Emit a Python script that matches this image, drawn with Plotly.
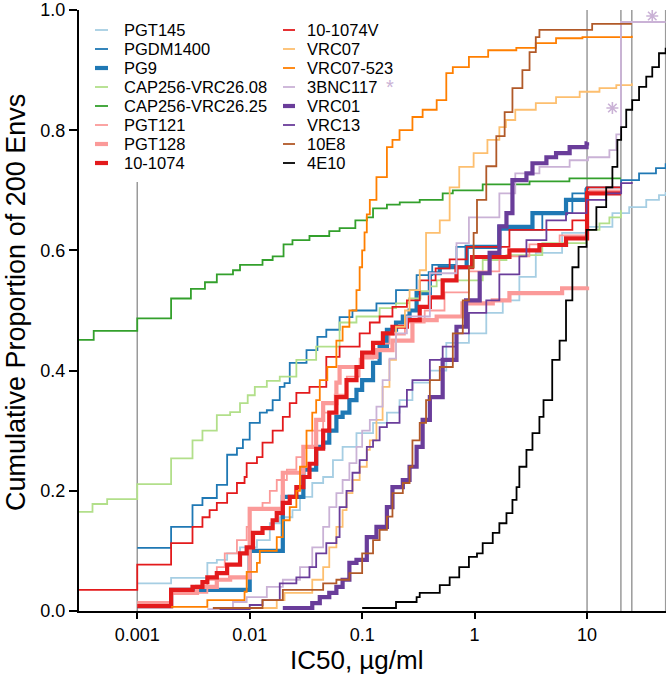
import plotly.graph_objects as go

# IC50 (ug/ml) breakpoints and cumulative proportion of the 200 Envs, one pair per antibody
pgt145_x = [0.001, 0.002, 0.0042, 0.0051, 0.0063, 0.0082, 0.0116, 0.0151, 0.0185, 0.024, 0.028, 0.036,
            0.045, 0.055, 0.067, 0.089, 0.125, 0.166, 0.215, 0.28, 0.40, 0.56, 0.89, 1.27, 1.78, 2.5,
            3.5, 6.0, 9.9, 16.8, 23.7, 33.6, 43.6, 50]
pgt145_y = [0.046, 0.055, 0.08, 0.085, 0.096, 0.106, 0.118, 0.146, 0.156, 0.168, 0.19, 0.213,
            0.223, 0.251, 0.273, 0.296, 0.313, 0.33, 0.351, 0.38, 0.40, 0.446, 0.462, 0.496, 0.517, 0.556,
            0.596, 0.629, 0.639, 0.662, 0.672, 0.684, 0.692, 0.697]

pgdm1400_x = [0.001, 0.002, 0.0031, 0.0038, 0.0051, 0.0063, 0.0077, 0.0087, 0.010, 0.0123, 0.0142, 0.016,
              0.0185, 0.0204, 0.0227, 0.032, 0.040, 0.048, 0.063, 0.082, 0.134, 0.20, 0.305, 0.42, 0.69,
              1.66, 4.0, 7.4, 9.9, 20.1, 29, 41, 50]
pgdm1400_y = [0.105, 0.14, 0.176, 0.188, 0.21, 0.26, 0.271, 0.285, 0.313, 0.33, 0.334, 0.351,
              0.373, 0.379, 0.413, 0.434, 0.456, 0.468, 0.489, 0.50, 0.512, 0.534, 0.559, 0.576, 0.606,
              0.634, 0.662, 0.695, 0.705, 0.717, 0.728, 0.737, 0.745]

pg9_x = [0.001, 0.002, 0.010, 0.0197, 0.030, 0.039, 0.045, 0.051, 0.059, 0.067, 0.077, 0.089, 0.10,
         0.125, 0.143, 0.166, 0.20, 0.23, 0.264, 0.305, 0.40, 0.49, 0.85, 1.66, 3.27, 6.5, 9.9, 10]
pg9_y = [0.008, 0.035, 0.10, 0.19, 0.235, 0.273, 0.28, 0.30, 0.323, 0.33, 0.351, 0.368, 0.384,
         0.413, 0.44, 0.468, 0.48, 0.49, 0.50, 0.529, 0.562, 0.572, 0.606, 0.639, 0.662, 0.684, 0.70, 0.705]

cap08_x = [0.0003, 0.0004, 0.00054, 0.001, 0.002, 0.0031, 0.0038, 0.0051, 0.0067, 0.0082, 0.0096, 0.0111,
           0.0142, 0.0185, 0.026, 0.039, 0.063, 0.089, 0.143, 0.20, 0.26, 0.33, 0.40, 0.46, 1.18, 1.92,
           4.0, 9.9, 12.9, 15.8, 20]
cap08_y = [0.165, 0.178, 0.186, 0.211, 0.254, 0.284, 0.30, 0.326, 0.331, 0.346, 0.359, 0.373,
           0.383, 0.39, 0.418, 0.44, 0.48, 0.49, 0.504, 0.512, 0.52, 0.532, 0.54, 0.55, 0.584, 0.592,
           0.612, 0.634, 0.645, 0.655, 0.667]

cap25_x = [0.0003, 0.00041, 0.001, 0.002, 0.003, 0.004, 0.0051, 0.0071, 0.0082, 0.013, 0.016, 0.020,
           0.024, 0.034, 0.051, 0.063, 0.087, 0.11, 0.125, 0.166, 0.216, 0.325, 0.52, 0.64, 1.18, 3.08,
           6.97, 20]
cap25_y = [0.451, 0.466, 0.487, 0.52, 0.536, 0.547, 0.56, 0.567, 0.576, 0.584, 0.59, 0.61,
           0.617, 0.624, 0.632, 0.637, 0.65, 0.655, 0.67, 0.676, 0.68, 0.684, 0.695, 0.70, 0.71, 0.715,
           0.72, 0.72]

pgt121_x = [0.001, 0.002, 0.0042, 0.0051, 0.006, 0.0077, 0.0094, 0.010, 0.013, 0.0151, 0.0174, 0.0214,
            0.026, 0.030, 0.036, 0.045, 0.057, 0.073, 0.095, 0.125, 0.175, 0.24, 0.36, 0.54, 0.89, 1.66,
            3.07, 5.7, 10, 20]
pgt121_y = [0.015, 0.03, 0.052, 0.073, 0.096, 0.118, 0.14, 0.168, 0.18, 0.20, 0.218, 0.235,
            0.256, 0.273, 0.30, 0.33, 0.36, 0.39, 0.42, 0.445, 0.46, 0.48, 0.50, 0.53, 0.565, 0.59,
            0.61, 0.625, 0.70, 0.70]

pgt128_x = [0.001, 0.002, 0.0034, 0.0051, 0.0067, 0.010, 0.0197, 0.030, 0.039, 0.045, 0.059, 0.063,
            0.10, 0.134, 0.186, 0.28, 0.46, 0.78, 1.45, 2.04, 6.0, 10]
pgt128_y = [0.01, 0.03, 0.04, 0.052, 0.056, 0.17, 0.23, 0.273, 0.318, 0.346, 0.38, 0.406,
            0.423, 0.434, 0.45, 0.484, 0.49, 0.512, 0.517, 0.529, 0.537, 0.54]

r1074_x = [0.001, 0.002, 0.0031, 0.0038, 0.0042, 0.0051, 0.0063, 0.0082, 0.0094, 0.0107, 0.013, 0.016,
           0.0174, 0.0197, 0.0227, 0.026, 0.030, 0.034, 0.039, 0.045, 0.051, 0.059, 0.0726, 0.089, 0.10,
           0.125, 0.153, 0.186, 0.25, 0.325, 0.40, 0.52, 0.69, 0.95, 2.04, 3.77, 6.5, 10, 20]
r1074_y = [0.008, 0.035, 0.04, 0.048, 0.056, 0.063, 0.077, 0.096, 0.106, 0.13, 0.138, 0.151,
           0.163, 0.18, 0.19, 0.206, 0.223, 0.245, 0.27, 0.30, 0.33, 0.356, 0.384, 0.406, 0.43,
           0.446, 0.462, 0.473, 0.484, 0.506, 0.522, 0.55, 0.572, 0.589, 0.60, 0.609, 0.62, 0.695, 0.695]

r1074v_x = [0.0003, 0.001, 0.002, 0.0031, 0.0038, 0.0044, 0.0051, 0.0063, 0.0077, 0.0090, 0.0094, 0.0116,
            0.013, 0.016, 0.0197, 0.0227, 0.026, 0.034, 0.048, 0.063, 0.095, 0.117, 0.143, 0.186, 0.25,
            0.325, 0.45, 0.6, 0.85, 2.04, 7.4, 10, 20]
r1074v_y = [0.035, 0.077, 0.113, 0.14, 0.156, 0.168, 0.18, 0.196, 0.213, 0.223, 0.246, 0.256,
            0.28, 0.30, 0.323, 0.346, 0.363, 0.373, 0.423, 0.44, 0.462, 0.48, 0.49, 0.506, 0.517,
            0.55, 0.57, 0.585, 0.606, 0.634, 0.65, 0.705, 0.705]

vrc07_x = [0.005, 0.0094, 0.0174, 0.0204, 0.036, 0.045, 0.051, 0.059, 0.067, 0.0726, 0.082, 0.095, 0.11,
           0.117, 0.134, 0.152, 0.175, 0.20, 0.24, 0.264, 0.325, 0.37, 0.49, 0.6, 0.73, 0.98, 1.3, 1.66,
           1.9, 2.3, 3.5, 5.3, 8.6, 12.9, 18.2, 25]
vrc07_y = [0.003, 0.005, 0.018, 0.03, 0.052, 0.073, 0.106, 0.14, 0.168, 0.196, 0.218, 0.24, 0.268,
           0.284, 0.318, 0.373, 0.418, 0.473, 0.50, 0.534, 0.567, 0.629, 0.65, 0.705, 0.739, 0.762, 0.784,
           0.805, 0.817, 0.834, 0.845, 0.855, 0.864, 0.87, 0.875, 0.878]

vrc07523_x = [0.002, 0.0042, 0.009, 0.0094, 0.0116, 0.0123, 0.0174, 0.0197, 0.0227, 0.026, 0.028, 0.032,
              0.036, 0.039, 0.042, 0.049, 0.059, 0.067, 0.077, 0.089, 0.095, 0.10, 0.105, 0.11, 0.117,
              0.134, 0.166, 0.186, 0.215, 0.28, 0.345, 0.46, 0.56, 0.64, 0.89, 1.32, 2.35, 3.5, 5.3,
              9.1, 25]
vrc07523_y = [0.007, 0.018, 0.032, 0.065, 0.08, 0.10, 0.123, 0.151, 0.173, 0.20, 0.24, 0.30,
              0.33, 0.351, 0.384, 0.406, 0.45, 0.473, 0.50, 0.534, 0.572, 0.60, 0.63, 0.66, 0.684,
              0.722, 0.772, 0.784, 0.80, 0.822, 0.834, 0.85, 0.895, 0.905, 0.922, 0.933, 0.937, 0.945,
              0.953, 0.955, 0.957]

bnc117_x = [0.0042, 0.0071, 0.0094, 0.0142, 0.0197, 0.028, 0.036, 0.045, 0.051, 0.059, 0.067, 0.077,
            0.089, 0.10, 0.117, 0.134, 0.152, 0.175, 0.20, 0.25, 0.40, 0.69, 0.89, 1.66, 2.3, 3.77, 7.0,
            10.2, 15.8, 18.2, 20, 50]
bnc117_y = [0.003, 0.015, 0.023, 0.04, 0.052, 0.073, 0.106, 0.14, 0.173, 0.196, 0.218, 0.246,
            0.273, 0.30, 0.318, 0.34, 0.384, 0.42, 0.462, 0.49, 0.562, 0.612, 0.655, 0.695, 0.728,
            0.739, 0.75, 0.755, 0.767, 0.793, 0.98, 0.98]

vrc01_x = [0.0197, 0.036, 0.042, 0.051, 0.059, 0.067, 0.077, 0.089, 0.11, 0.134, 0.166, 0.186, 0.23,
           0.264, 0.305, 0.345, 0.40, 0.52, 0.69, 0.84, 1.11, 1.36, 1.66, 1.92, 2.17, 2.89, 3.27, 4.35,
           5.3, 7.0, 9.9, 10]
vrc01_y = [0.005, 0.013, 0.023, 0.03, 0.04, 0.052, 0.08, 0.085, 0.123, 0.14, 0.173, 0.206, 0.218,
           0.24, 0.273, 0.318, 0.356, 0.418, 0.473, 0.517, 0.562, 0.596, 0.64, 0.662, 0.717, 0.728,
           0.745, 0.755, 0.762, 0.772, 0.778, 0.78]

vrc13_x = [0.0054, 0.010, 0.013, 0.0185, 0.026, 0.034, 0.039, 0.048, 0.059, 0.063, 0.0726, 0.082, 0.095,
           0.11, 0.125, 0.143, 0.166, 0.215, 0.25, 0.28, 0.40, 0.52, 0.69, 0.89, 1.27, 1.66, 2.5, 2.89,
           4.35, 6.5, 9.9, 14.8, 20.1, 25]
vrc13_y = [0.003, 0.01, 0.018, 0.046, 0.056, 0.073, 0.096, 0.113, 0.123, 0.173, 0.20, 0.23, 0.251,
           0.273, 0.284, 0.306, 0.313, 0.34, 0.368, 0.384, 0.418, 0.44, 0.462, 0.496, 0.517, 0.56, 0.59,
           0.617, 0.65, 0.662, 0.684, 0.695, 0.712, 0.714]

e8_x = [0.0047, 0.013, 0.0197, 0.045, 0.059, 0.077, 0.10, 0.125, 0.143, 0.166, 0.186, 0.23, 0.264, 0.28,
        0.325, 0.37, 0.40, 0.49, 0.64, 0.785, 0.89, 0.98, 1.05, 1.27, 1.56, 1.85, 2.17, 2.66, 3.08, 3.5,
        3.77, 11.1, 25]
e8_y = [0.005, 0.018, 0.035, 0.046, 0.052, 0.063, 0.096, 0.118, 0.135, 0.157, 0.196, 0.213, 0.24, 0.284,
        0.313, 0.351, 0.384, 0.406, 0.462, 0.517, 0.572, 0.629, 0.684, 0.74, 0.79, 0.83, 0.87, 0.90, 0.93,
        0.955, 0.967, 0.977, 0.977]

e10_x = [0.10, 0.20, 0.305, 0.325, 0.49, 0.6, 0.73, 0.89, 1.05, 1.18, 1.45, 1.66, 1.92, 2.17, 2.36, 2.5,
         2.89, 3.27, 3.77, 4.1, 4.9, 5.7, 6.5, 7.4, 8.4, 9.9, 12.1, 14.8, 16.8, 18.6, 20.1, 22.3, 25.2, 29,
         33.6, 38, 43.6, 50]
e10_y = [0.005, 0.015, 0.023, 0.03, 0.043, 0.056, 0.073, 0.09, 0.096, 0.113, 0.13, 0.146, 0.163, 0.185,
         0.206, 0.24, 0.268, 0.296, 0.323, 0.351, 0.418, 0.45, 0.517, 0.572, 0.606, 0.634, 0.672, 0.705,
         0.739, 0.784, 0.805, 0.834, 0.85, 0.872, 0.889, 0.905, 0.928, 0.937]

# highest concentrations tested (grey guide lines) and the 0.001 floor line
cap_lines = [10, 20, 25, 50]
floor_x = 0.001
floor_top = 0.714

# 3BNC117 asterisks
star_x = [16.8, 38]
star_y = [0.837, 0.99]

x_ticks = [0.001, 0.01, 0.1, 1, 10]
x_tick_text = ["0.001", "0.01", "0.1", "1", "10"]
y_ticks = [0, 0.2, 0.4, 0.6, 0.8, 1.0]

THIN, THICK = 1.8, 4.2
series = [
    ("PGT145", pgt145_x, pgt145_y, "#a6cee3", THIN),
    ("PGDM1400", pgdm1400_x, pgdm1400_y, "#1f78b4", THIN),
    ("PG9", pg9_x, pg9_y, "#1f78b4", THICK),
    ("CAP256-VRC26.08", cap08_x, cap08_y, "#b2df8a", THIN),
    ("CAP256-VRC26.25", cap25_x, cap25_y, "#33a02c", THIN),
    ("PGT121", pgt121_x, pgt121_y, "#fb9a99", THIN),
    ("PGT128", pgt128_x, pgt128_y, "#fb9a99", THICK),
    ("10-1074", r1074_x, r1074_y, "#e31a1c", THICK),
    ("10-1074V", r1074v_x, r1074v_y, "#e31a1c", THIN),
    ("VRC07", vrc07_x, vrc07_y, "#fdbf6f", THIN),
    ("VRC07-523", vrc07523_x, vrc07523_y, "#ff7f00", THIN),
    ("3BNC117", bnc117_x, bnc117_y, "#cab2d6", THIN),
    ("VRC01", vrc01_x, vrc01_y, "#6a3d9a", THICK),
    ("VRC13", vrc13_x, vrc13_y, "#6a3d9a", THIN),
    ("10E8", e8_x, e8_y, "#b15928", THIN),
    ("4E10", e10_x, e10_y, "black", THIN),
]

fig = go.Figure()

grey = dict(color="#9a9a9a", width=1.5)
for cx in cap_lines:
    fig.add_trace(go.Scatter(x=[cx, cx], y=[0, 1], mode="lines", line=grey,
                             hoverinfo="skip", showlegend=False))
fig.add_trace(go.Scatter(x=[floor_x, floor_x], y=[0, floor_top], mode="lines", line=grey,
                         hoverinfo="skip", showlegend=False))

for name, xs, ys, color, width in series:
    fig.add_trace(go.Scatter(x=xs, y=ys, name=name, mode="lines", line_shape="hv",
                             line=dict(color=color, width=width), showlegend=False))

fig.add_trace(go.Scatter(x=star_x, y=star_y, mode="markers", showlegend=False, hoverinfo="skip",
                         marker=dict(symbol="asterisk-open", size=10, color="#cab2d6",
                                     line=dict(color="#cab2d6", width=1.6))))

W, H = 667, 676

# hand-built two column legend (pixel layout of the reference)
plot_l, plot_w, plot_b, plot_h = 79, 587, 611, 601
def px(x):
    return (x - plot_l) / plot_w
def py(y):
    return (plot_b - y) / plot_h

shapes, annotations = [], []
columns = [(95, 108, 122), (283, 295, 305)]
for i, (name, _, _, color, width) in enumerate(series):
    x0, x1, xt = columns[i // 8]
    row_y = 30 + 19 * (i % 8)
    shapes.append(dict(type="line", xref="paper", yref="paper", x0=px(x0), x1=px(x1),
                       y0=py(row_y), y1=py(row_y), line=dict(color=color, width=width)))
    annotations.append(dict(xref="paper", yref="paper", x=px(xt), y=py(row_y), text=name,
                            showarrow=False, xanchor="left", yanchor="middle",
                            font=dict(size=16.5, color="black")))
annotations.append(dict(xref="paper", yref="paper", x=px(390), y=py(87), text="*",
                        showarrow=False, xanchor="center", yanchor="middle",
                        font=dict(size=20, color="#cab2d6")))

annotations.append(dict(xref="paper", yref="paper", x=px(356), y=py(660), text="IC50, µg/ml",
                        showarrow=False, xanchor="center", yanchor="middle",
                        font=dict(size=26, color="black")))
annotations.append(dict(xref="paper", yref="paper", x=px(16), y=py(303),
                        text="Cumulative Proportion of 200 Envs", textangle=-90,
                        showarrow=False, xanchor="center", yanchor="middle",
                        font=dict(size=27, color="black")))

fig.update_layout(
    width=W, height=H,
    margin=dict(l=plot_l, r=W - (plot_l + plot_w), t=plot_b - plot_h, b=H - plot_b),
    plot_bgcolor="white", paper_bgcolor="white",
    font=dict(family="Liberation Sans, Arial, Helvetica, sans-serif", color="black"),
    showlegend=False,
    shapes=shapes,
    annotations=annotations,
    xaxis=dict(type="log", range=[-3.518, 1.702], tickvals=x_ticks, ticktext=x_tick_text,
               ticks="outside", ticklen=6, tickwidth=1.5, tickcolor="black",
               showline=True, linecolor="black", linewidth=2, showgrid=False, zeroline=False,
               tickfont=dict(size=18, color="black"), automargin=False),
    yaxis=dict(range=[0, 1], tickvals=y_ticks, tickformat=".1f",
               ticks="outside", ticklen=8, tickwidth=1.5, tickcolor="black",
               showline=True, linecolor="black", linewidth=2, showgrid=False, zeroline=False,
               tickfont=dict(size=18, color="black"), automargin=False,
               ticklabeloverflow="allow"),
)

# drop the default 8px body margin so the figure sits flush in the window
fig.write_html("out.html", config={"displayModeBar": False},
               post_script="document.body.style.margin = '0';")
